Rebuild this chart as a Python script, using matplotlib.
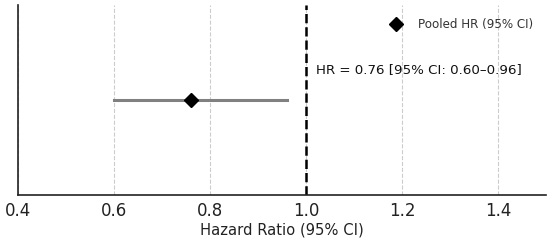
import matplotlib
matplotlib.use("Agg")
from matplotlib import pyplot as plt

# pooled estimate
hr = 0.76
ci_low = 0.60
ci_high = 0.96
label = "Pooled HR (95% CI)"
x_ticks = [0.4, 0.6, 0.8, 1.0, 1.2, 1.4]

fig = plt.figure(figsize=(5.5, 2.41), dpi=100)
ax = fig.add_axes([0.033, 0.191, 0.96, 0.788])

ax.plot([ci_low, ci_high], [0, 0], color="#808080", linewidth=2.2, zorder=2)
ax.plot([hr], [0], marker="D", color="black", markersize=7, linestyle="",
        label=label, zorder=3)
ax.axvline(1.0, color="black", linestyle="--", linewidth=1.8, zorder=2)

ax.text(1.02, 0.32, "HR = {:.2f} [95% CI: {:.2f}\u2013{:.2f}]".format(hr, ci_low, ci_high),
        fontsize=9.6, va="center", ha="left", color="#111111")

ax.set_xlim(0.4, 1.5)
ax.set_ylim(-1, 1)
ax.set_xticks(x_ticks)
ax.set_yticks([])
ax.tick_params(axis="x", length=0, labelsize=12, pad=5, labelcolor="#222222")
ax.grid(axis="x", linestyle="--", color="#cccccc", linewidth=0.8, zorder=0)
ax.set_axisbelow(True)
for side in ["top", "right"]:
    ax.spines[side].set_visible(False)
for side in ["left", "bottom"]:
    ax.spines[side].set_linewidth(1.2)
    ax.spines[side].set_color("#222222")
ax.set_xlabel("Hazard Ratio (95% CI)", fontsize=10.6, labelpad=2, color="#222222")

leg = ax.legend(loc="upper right", frameon=False, fontsize=8.6, handletextpad=0.8,
                borderaxespad=0.7)
for t in leg.get_texts():
    t.set_color("#333333")

fig.savefig("out.png", dpi=100)
